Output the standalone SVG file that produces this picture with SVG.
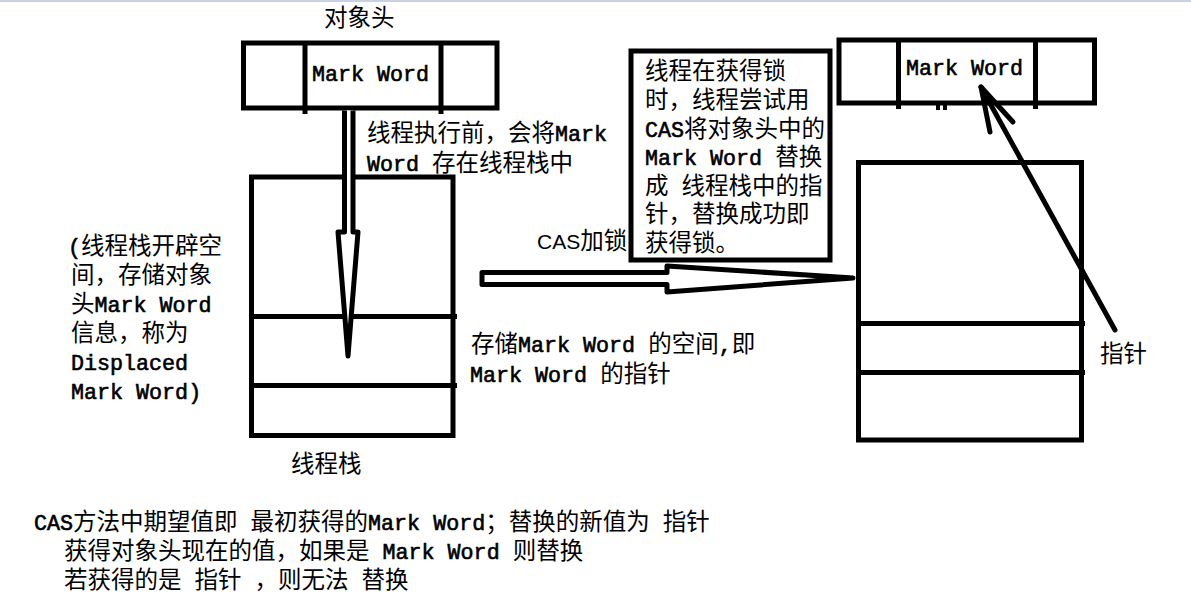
<svg xmlns="http://www.w3.org/2000/svg" width="1191" height="602" viewBox="0 0 1191 602">
<style>
.b{fill:none;stroke:#000;stroke-width:5}
.w{fill:#fff;stroke:#000;stroke-width:5;stroke-linejoin:round}
.l{stroke:#000;stroke-width:5;fill:none}
.p{stroke:#000;stroke-width:5;fill:none;stroke-linecap:round}
text{font-family:"Noto Sans CJK SC",sans-serif;font-size:23.5px;fill:#000}
.m{font-family:"Liberation Mono","Noto Sans CJK SC",monospace;font-size:21.7px;stroke:#000;stroke-width:0.6px}
.s{font-family:"Liberation Sans",Arial,sans-serif;font-size:21px}
</style>
<rect x="0" y="0" width="1191" height="602" fill="#fff"/>
<rect x="0" y="0" width="1191" height="2" fill="#c8d2e3"/>

<g id="header-left">
<rect class="b" x="243.5" y="43" width="253.5" height="65"/>
<line class="l" x1="305" y1="43" x2="305" y2="114"/>
<line class="l" x1="441" y1="43" x2="441" y2="114"/>
<text x="312" y="81" xml:space="preserve"><tspan class="m">Mark Word</tspan></text>
<text x="324" y="26">对象头</text>
</g>

<g id="stack-left">
<rect class="b" x="251.5" y="177" width="201.5" height="258.5"/>
<line class="l" x1="251.5" y1="316.5" x2="457" y2="316.5"/>
<line class="l" x1="249" y1="385.5" x2="457" y2="385.5"/>
<text x="291" y="472">线程栈</text>
</g>

<g id="textbox">
<rect class="b" x="631" y="51" width="199" height="209"/>
<text xml:space="preserve"><tspan x="645" y="79">线程在获得锁</tspan><tspan x="645" y="108">时，线程尝试用</tspan><tspan x="645" y="137"><tspan class="m">CAS</tspan>将对象头中的</tspan><tspan x="645" y="165"><tspan class="m">Mark Word </tspan>替换</tspan><tspan x="645" y="194">成<tspan class="m"> </tspan>线程栈中的指</tspan><tspan x="645" y="222">针，替换成功即</tspan><tspan x="645" y="251">获得锁。</tspan></text>
</g>

<g id="header-right">
<rect class="b" x="839" y="40" width="255.5" height="63"/>
<line class="l" x1="898.5" y1="40" x2="898.5" y2="109"/>
<line class="l" x1="1035.5" y1="40" x2="1035.5" y2="109"/>
<rect x="936" y="103" width="4" height="7" fill="#000"/>
<rect x="943" y="103" width="4" height="7" fill="#000"/>
<text x="906" y="75" xml:space="preserve"><tspan class="m">Mark Word</tspan></text>
</g>

<g id="stack-right">
<rect class="b" x="858.5" y="162.5" width="223" height="277.5"/>
<line class="l" x1="858.5" y1="323.5" x2="1085" y2="323.5"/>
<line class="l" x1="858.5" y1="372.5" x2="1085" y2="372.5"/>
</g>

<g id="labels">
<text xml:space="preserve"><tspan x="367" y="141">线程执行前，会将<tspan class="m">Mark</tspan></tspan><tspan x="367" y="171"><tspan class="m">Word </tspan>存在线程栈中</tspan></text>
<text xml:space="preserve"><tspan x="68" y="254"><tspan class="m">(</tspan>线程栈开辟空</tspan><tspan x="71" y="283">间，存储对象</tspan><tspan x="71" y="312">头<tspan class="m">Mark Word</tspan></tspan><tspan x="71" y="341">信息，称为</tspan><tspan x="71" y="370" class="m">Displaced</tspan><tspan x="71" y="399" class="m">Mark Word)</tspan></text>
<text x="537" y="249"><tspan class="s">CAS</tspan>加锁</text>
<text xml:space="preserve"><tspan x="471" y="352">存储<tspan class="m">Mark Word </tspan>的空间<tspan class="m">,</tspan>即</tspan><tspan x="470" y="382"><tspan class="m">Mark Word </tspan>的指针</tspan></text>
<text x="1100" y="362">指针</text>
<text xml:space="preserve"><tspan x="34" y="530"><tspan class="m">CAS</tspan>方法中期望值即<tspan class="m"> </tspan>最初获得的<tspan class="m">Mark Word</tspan>；替换的新值为<tspan class="m"> </tspan>指针</tspan><tspan x="64" y="559">获得对象头现在的值，如果是<tspan class="m"> Mark Word </tspan>则替换</tspan><tspan x="64" y="588">若获得的是<tspan class="m"> </tspan>指针<tspan class="m"> </tspan>，则无法<tspan class="m"> </tspan>替换</tspan></text>
</g>

<g id="connectors">
<path class="w" d="M344.5,110.5 V232 H338 L348,356 L358,232 H353 V110.5"/>
<path class="w" d="M482,272.5 H667 V266 L853,278 L667,292 V284.5 H482 Z"/>
<line class="p" x1="1115" y1="330" x2="981" y2="87"/>
<polyline class="p" points="990,132 981,87 1013,122" stroke-linejoin="round"/>
</g>
</svg>
